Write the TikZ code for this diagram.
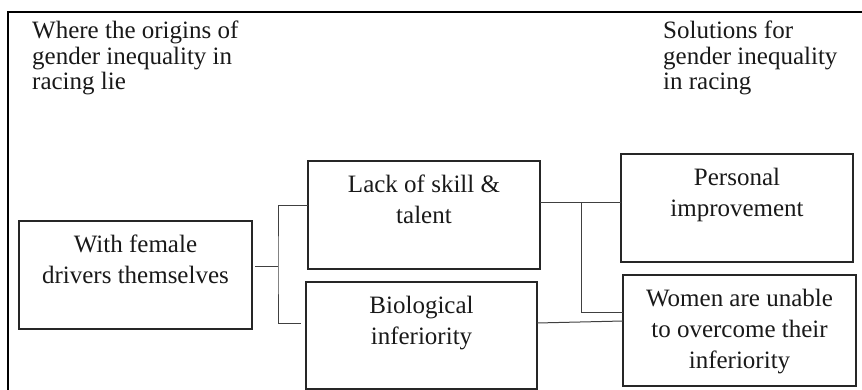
\documentclass[tikz,border=0pt]{standalone}
\usepackage{fontspec}
\setmainfont{Liberation Serif}
\begin{document}
\begin{tikzpicture}[x=1pt,y=-1pt,
  box/.style={draw=black!85,line width=1.1pt,inner sep=0pt,outer sep=0pt,minimum width=#1},
  box/.default=232pt,
  boxtxt/.style={anchor=base,align=center,inner sep=0pt,font=\fontsize{25}{31}\selectfont,text=black!90},
  headtxt/.style={anchor=base west,align=left,inner sep=0pt,font=\fontsize{25}{25.5}\selectfont,text=black!90},
  conn/.style={draw=black!75,line width=1pt}]
\useasboundingbox (0,0) rectangle (862,390);
% outer frame (cut off at right and bottom)
\draw[line width=1.8pt,black] (863,12) -- (8,12) -- (8,391);
% headers (anchored at the baseline of their last line)
\node[headtxt] (hl) at (32,90) {Where the origins of\\gender inequality in\\racing lie};
\node[headtxt] (hr) at (663,90) {Solutions for\\gender inequality\\in racing};
% boxes
\node[box=233pt,minimum height=108pt] (fem) at (135.5,275) {};
\node[box=232pt,minimum height=108pt] (lack) at (424,215) {};
\node[box=231pt,minimum height=107pt] (bio) at (421.5,335.5) {};
\node[box=232pt,minimum height=108pt] (pers) at (737,208) {};
\node[box=233pt,minimum height=111pt] (wom) at (739.5,330.5) {};
% box texts (anchored at the baseline of their last line)
\node[boxtxt] (femt) at (135.5,283.5) {With female\\drivers themselves};
\node[boxtxt] (lackt) at (424,224) {Lack of skill \&\\talent};
\node[boxtxt] (biot) at (421.5,344) {Biological\\inferiority};
\node[boxtxt] (perst) at (737,217) {Personal\\improvement};
\node[boxtxt] (womt) at (739.5,368) {Women are unable\\to overcome their\\inferiority};
% connectors
\coordinate (j1) at (278,266);
\coordinate (j2) at (581,203);
\draw[conn] ([xshift=3pt]fem.east |- j1) -- (j1);
\draw[conn] (lack.west |- 0,206) -| (j1) |- ([xshift=-5pt]bio.west |- 0,323);
\draw[conn] (lack.east |- j2) -- (pers.west |- j2);
\draw[conn] (j2) |- (wom.west |- 0,312);
\draw[conn] (bio.east |- 0,323) -- (wom.west |- 0,321);
\end{tikzpicture}
\end{document}
